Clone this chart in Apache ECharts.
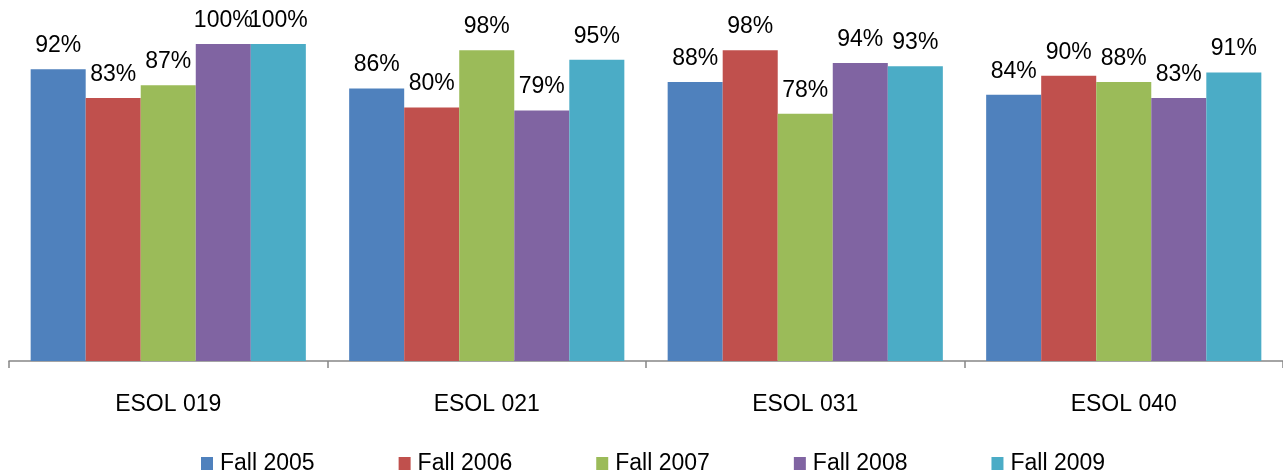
<!DOCTYPE html>
<html>
<head>
<meta charset="utf-8">
<script src="https://cdn.jsdelivr.net/npm/echarts@6/dist/echarts.min.js"></script>
<style>
  html, body { margin: 0; padding: 0; background: #fff; }
  #chart { width: 1283px; height: 473px; }
</style>
</head>
<body>
<div id="chart"></div>
<script>
// Course sections on the category axis
const categories = ['ESOL 019', 'ESOL 021', 'ESOL 031', 'ESOL 040'];

// Percent values per term, one entry per course section
const fall2005 = [92, 86, 88, 84];
const fall2006 = [83, 80, 98, 90];
const fall2007 = [87, 98, 78, 88];
const fall2008 = [100, 79, 94, 83];
const fall2009 = [100, 95, 93, 91];

const seriesNames = ['Fall 2005', 'Fall 2006', 'Fall 2007', 'Fall 2008', 'Fall 2009'];
const seriesValues = [fall2005, fall2006, fall2007, fall2008, fall2009];
const colors = ['#4F81BD', '#C0504D', '#9BBB59', '#8064A2', '#4BACC6'];

const FONT = '"Liberation Sans", Arial, sans-serif';

const chart = echarts.init(document.getElementById('chart'));
chart.setOption({
  animation: false,
  color: colors,
  textStyle: { fontFamily: FONT },
  grid: { left: 9, right: -4, top: 44, bottom: 112, containLabel: false },
  legend: {
    left: 196,
    top: 447,
    icon: 'rect',
    itemWidth: 12,
    itemHeight: 13,
    itemGap: 84,
    textStyle: { fontSize: 23, color: '#000', fontFamily: FONT, padding: [0, 0, 0, 2] },
    data: seriesNames
  },
  xAxis: {
    type: 'category',
    data: categories,
    axisLine: { lineStyle: { color: '#868686', width: 1.5 } },
    axisTick: { show: true, length: 7, lineStyle: { color: '#868686', width: 1.5 } },
    axisLabel: { fontSize: 23, color: '#000', margin: 32, fontFamily: FONT }
  },
  yAxis: {
    type: 'value',
    min: 0,
    max: 100,
    show: false
  },
  series: seriesNames.map((name, i) => ({
    name: name,
    type: 'bar',
    data: seriesValues[i],
    barGap: '0%',
    barCategoryGap: '13.6%',
    itemStyle: { color: colors[i] },
    label: {
      show: true,
      position: 'top',
      distance: 12,
      formatter: '{c}%',
      fontSize: 23,
      color: '#000',
      fontFamily: FONT
    }
  }))
});
</script>
</body>
</html>
